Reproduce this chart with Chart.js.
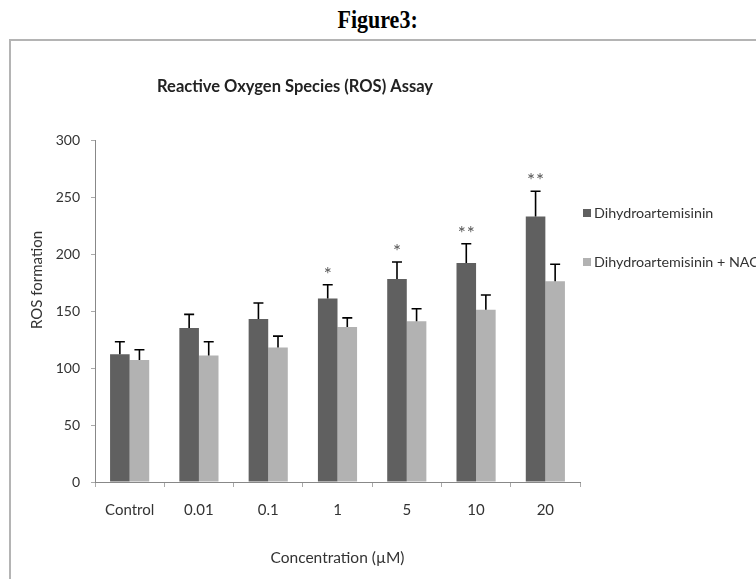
<!DOCTYPE html>
<html><head><meta charset="utf-8">
<script src="https://cdn.jsdelivr.net/npm/chart.js@4.4.1/dist/chart.umd.min.js"></script>
<style>
html,body{margin:0;padding:0;background:#fff;width:756px;height:579px;overflow:hidden;}
#fig{position:absolute;left:0;top:5px;width:756px;text-align:center;font-family:"Liberation Serif","Times New Roman",serif;font-weight:bold;font-size:25px;color:#000;line-height:30px;}
#fig span{display:inline-block;transform:scaleX(0.88);transform-origin:center;}
#frame{position:absolute;left:9px;top:39px;width:760px;height:560px;border:2px solid #b4b4b4;box-sizing:border-box;}
#wrap{position:absolute;left:0;top:0;width:756px;height:579px;}
</style></head><body>
<div id="fig"><span>Figure3:</span></div>
<div id="frame"></div>
<div id="wrap"><canvas id="c" width="756" height="579"></canvas></div>
<script>
const categories = ['Control', '0.01', '0.1', '1', '5', '10', '20'];
const dhaValues = [112, 135, 143, 161, 178, 192, 233];
const dhaErrors = [11, 12, 14, 12, 15, 17, 22];
const nacValues = [107, 111, 118, 136, 141, 151, 176];
const nacErrors = [9, 12, 10, 8, 11, 13, 15];
const significance = ['', '', '', '*', '*', '**', '**'];
const yTicks = [0, 50, 100, 150, 200, 250, 300];
const seriesNames = ['Dihydroartemisinin', 'Dihydroartemisinin + NAC'];
const seriesColors = ['#606060', '#b2b2b2'];

const FONT = 'Lato';
const TXT = '#333333';

const extras = {
  id: 'extras',
  afterDatasetsDraw(chart) {
    const ctx = chart.ctx;
    const ys = chart.scales.y;
    const area = chart.chartArea;
    const errs = [dhaErrors, nacErrors];
    ctx.save();
    chart.data.datasets.forEach((ds, di) => {
      const meta = chart.getDatasetMeta(di);
      meta.data.forEach((bar, i) => {
        const v = ds.data[i];
        const yTop = ys.getPixelForValue(v + errs[di][i]);
        const yBase = ys.getPixelForValue(v);
        ctx.strokeStyle = '#000';
        ctx.lineWidth = 1.6;
        ctx.beginPath();
        ctx.moveTo(bar.x, yBase);
        ctx.lineTo(bar.x, yTop);
        ctx.moveTo(bar.x - 5, yTop);
        ctx.lineTo(bar.x + 5, yTop);
        ctx.stroke();
        if (di === 0 && significance[i]) {
          ctx.fillStyle = '#555';
          ctx.font = '19px ' + FONT;
          ctx.textAlign = 'center';
          ctx.textBaseline = 'alphabetic';
          const s = significance[i];
          const gap = 9;
          for (let k = 0; k < s.length; k++) {
            const dx = (k - (s.length - 1) / 2) * gap;
            ctx.fillText(s[k], bar.x + dx, yTop - 4);
          }
        }
      });
    });
    // legend
    ctx.font = '14.3px ' + FONT;
    ctx.textAlign = 'left';
    ctx.textBaseline = 'middle';
    seriesNames.forEach((name, k) => {
      const ly = area.top + 73 + k * 49;
      ctx.fillStyle = seriesColors[k];
      ctx.fillRect(area.right + 3, ly - 4, 8, 8);
      ctx.fillStyle = TXT;
      ctx.fillText(name, area.right + 14, ly);
    });
    // y axis title
    ctx.font = '15px ' + FONT;
    ctx.translate(37, (area.top + area.bottom) / 2 - 31);
    ctx.rotate(-Math.PI / 2);
    ctx.textAlign = 'center';
    ctx.fillStyle = TXT;
    ctx.fillText('ROS formation', 0, 0);
    ctx.restore();
  }
};

new Chart(document.getElementById('c'), {
  type: 'bar',
  data: {
    labels: categories,
    datasets: [
      { label: seriesNames[0], data: dhaValues, backgroundColor: seriesColors[0], borderWidth: 0 },
      { label: seriesNames[1], data: nacValues, backgroundColor: seriesColors[1], borderWidth: 0 }
    ]
  },
  options: {
    responsive: false,
    animation: false,
    events: [],
    datasets: { bar: { categoryPercentage: 0.565, barPercentage: 1.0 } },
    layout: { padding: { left: 10, right: 176, top: 0, bottom: 0 } },
    plugins: {
      legend: { display: false },
      tooltip: { enabled: false },
      title: {
        display: true,
        text: 'Reactive Oxygen Species (ROS) Assay',
        font: { family: FONT, size: 16.5, weight: 'bold' },
        color: '#222',
        padding: { top: 77.1, bottom: 43.1 }
      }
    },
    scales: {
      x: {
        grid: { display: true, drawOnChartArea: false, tickLength: 5, color: '#aaa', offset: true },
        border: { color: '#888', width: 1 },
        ticks: { font: { family: FONT, size: 15 }, color: TXT, padding: 14, maxRotation: 0 },
        title: { display: true, text: 'Concentration (µM)', font: { family: FONT, size: 15.5 }, color: TXT, padding: { top: 10, bottom: 11.7 } },
        afterFit: s => { s.height = 97; }
      },
      y: {
        min: 0, max: 300,
        afterBuildTicks: s => { s.ticks = yTicks.map(v => ({ value: v })); },
        grid: { display: true, drawOnChartArea: false, tickLength: 4, color: '#aaa' },
        border: { color: '#888', width: 1 },
        ticks: { font: { family: FONT, size: 14 }, color: TXT, padding: 11 },
        afterFit: s => { s.width = 85; }
      }
    }
  },
  plugins: [extras]
});
</script>
</body></html>
